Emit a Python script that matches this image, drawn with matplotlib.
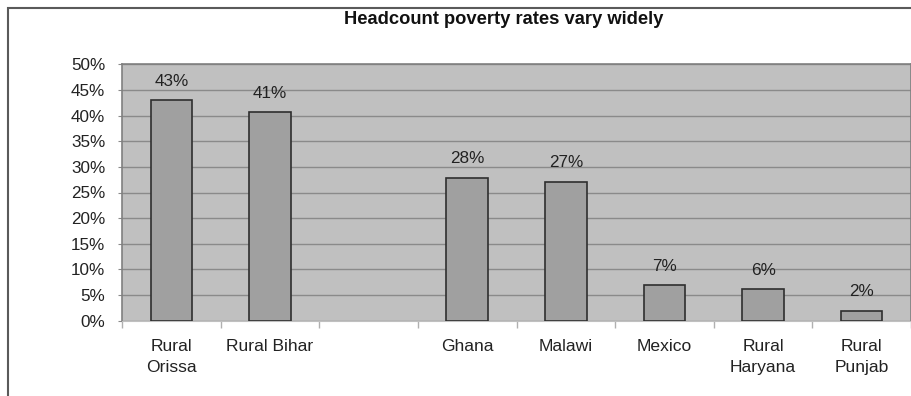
import matplotlib
matplotlib.use("Agg")
import matplotlib.pyplot as plt
import numpy as np
from matplotlib.patches import Rectangle

categories = ["Rural\nOrissa", "Rural Bihar", "", "Ghana", "Malawi", "Mexico", "Rural\nHaryana", "Rural\nPunjab"]
values = [43.0, 40.7, None, 27.9, 27.1, 6.9, 6.1, 1.95]
labels = ["43%", "41%", "", "28%", "27%", "7%", "6%", "2%"]
yticks = [0, 5, 10, 15, 20, 25, 30, 35, 40, 45, 50]
title = "Headcount poverty rates vary widely"

plt.rcParams['font.family'] = ['Liberation Sans', 'DejaVu Sans']

fig = plt.figure(figsize=(9.12, 3.96), dpi=100)
fig.patch.set_facecolor('white')

# outer chart frame (cut off at right and bottom)
fig.add_artist(Rectangle((8.5/912, -0.1), 1.2, (396 - 7.5)/396 + 0.1,
                         transform=fig.transFigure, fill=False,
                         edgecolor='#5a5a5a', linewidth=1.5))

ax = fig.add_axes([122/912, 75.3/396, 789/912, 256.4/396])
ax.set_facecolor('#C0C0C0')

x = np.arange(len(categories))
xs = [i for i, v in enumerate(values) if v is not None]
vs = [v for v in values if v is not None]
ax.set_axisbelow(True)
ax.yaxis.grid(True, color='#8a8a8a', linewidth=1)
ax.bar(xs, vs, width=0.42, color='#A0A0A0', edgecolor='#2e2e2e', linewidth=1.2, zorder=3)

for i, v in zip(xs, vs):
    ax.text(i, v + 2.2, labels[i], ha='center', va='bottom', fontsize=12.3, color='#222222')

ax.set_xlim(-0.5, len(categories) - 0.5)
ax.set_ylim(0, 50)
ax.set_yticks(yticks)
ax.set_yticklabels([f"{t}%" for t in yticks], fontsize=12.3, color='#222222')
ax.tick_params(axis='y', length=3, color='#8a8a8a', pad=9)

ax.set_xticks(x)
ax.set_xticklabels(categories, fontsize=12.6, color='#222222', linespacing=1.5, va='top')
ax.tick_params(axis='x', which='major', length=0, pad=13.5)
ax.set_xticks(np.arange(-0.5, len(categories) + 0.5, 1), minor=True)
ax.tick_params(axis='x', which='minor', length=5, color='#b0b0b0', width=1)

for s in ['top', 'right', 'left']:
    ax.spines[s].set_color('#808080')
    ax.spines[s].set_linewidth(1.2)
ax.spines['bottom'].set_color('#C0C0C0')

fig.text(504/912, 1 - 19/396, title, ha='center', va='center', fontsize=13.2, fontweight='bold', color='#111111')

fig.savefig('out.png', dpi=100)
